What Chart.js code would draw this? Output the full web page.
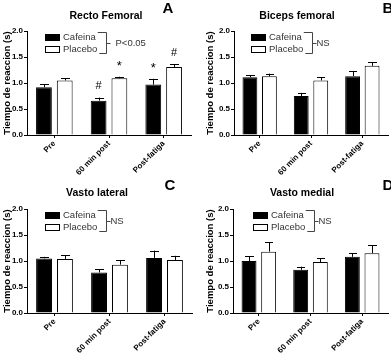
<!DOCTYPE html>
<html>
<head>
<meta charset="utf-8">
<script src="https://cdn.jsdelivr.net/npm/chart.js@4"></script>
<style>
  body { margin: 0; background: #fff; }
  #wrap { position: relative; width: 391px; height: 354px; overflow: hidden; }
  .panel { position: absolute; width: 195px; height: 177px; }
</style>
</head>
<body>
<div id="wrap">
  <div class="panel" style="left:0;top:0"><canvas id="chartA" width="195" height="177"></canvas></div>
  <div class="panel" style="left:195px;top:0;width:196px"><canvas id="chartB" width="196" height="177"></canvas></div>
  <div class="panel" style="left:0;top:177px"><canvas id="chartC" width="195" height="177"></canvas></div>
  <div class="panel" style="left:195px;top:177px;width:196px"><canvas id="chartD" width="196" height="177"></canvas></div>
</div>
<script>
// Data
const categories = ['Pre', '60 min post', 'Post-fatiga'];
const yTicks = [0, 0.5, 1.0, 1.5, 2.0];
const seriesNames = ['Cafeina', 'Placebo'];

// Recto femoral
const rfCafeina = [0.92, 0.66, 0.97];
const rfCafeinaErr = [0.06, 0.06, 0.11];
const rfPlacebo = [1.05, 1.09, 1.31];
const rfPlaceboErr = [0.04, 0.03, 0.05];
const rfMarksCafeina = ['', '#', '*'];
const rfMarksPlacebo = ['', '*', '#'];

// Biceps femoral
const bfCafeina = [1.11, 0.75, 1.13];
const bfCafeinaErr = [0.04, 0.06, 0.10];
const bfPlacebo = [1.13, 1.05, 1.33];
const bfPlaceboErr = [0.05, 0.06, 0.07];

// Vasto lateral
const vlCafeina = [1.05, 0.78, 1.06];
const vlCafeinaErr = [0.03, 0.06, 0.14];
const vlPlacebo = [1.04, 0.93, 1.02];
const vlPlaceboErr = [0.07, 0.09, 0.08];

// Vasto medial
const vmCafeina = [1.00, 0.83, 1.08];
const vmCafeinaErr = [0.09, 0.06, 0.07];
const vmPlacebo = [1.18, 0.98, 1.15];
const vmPlaceboErr = [0.18, 0.07, 0.15];

const noMarks = ['', '', ''];

const FONT = "'Liberation Sans', Arial, sans-serif";

// error bars (upper only) + significance marks
const errorBarPlugin = {
    id: 'errorBars',
    afterDatasetsDraw(chart) {
        const ctx = chart.ctx;
        const yScale = chart.scales.y;
        chart.data.datasets.forEach(function (ds, i) {
            const meta = chart.getDatasetMeta(i);
            meta.data.forEach(function (bar, j) {
                const top = yScale.getPixelForValue(ds.data[j] + ds.errors[j]);
                const half = bar.width / 4;
                ctx.save();
                ctx.strokeStyle = '#000';
                ctx.lineWidth = 1;
                ctx.beginPath();
                ctx.moveTo(Math.round(bar.x) + 0.5, bar.y);
                ctx.lineTo(Math.round(bar.x) + 0.5, top);
                ctx.moveTo(Math.round(bar.x - half), Math.round(top) + 0.5);
                ctx.lineTo(Math.round(bar.x + half) + 1, Math.round(top) + 0.5);
                ctx.stroke();
                const mark = ds.marks[j];
                if (mark) {
                    ctx.fillStyle = '#000';
                    ctx.textAlign = 'center';
                    ctx.textBaseline = 'bottom';
                    ctx.font = (mark === '*' ? '13px ' : '11px ') + FONT;
                    ctx.fillText(mark, bar.x, top - (mark === '*' ? 4 : 6));
                }
                ctx.restore();
            });
        });
    }
};

// title, panel letter, legend with bracket, y title
const decorPlugin = {
    id: 'decor',
    afterDraw(chart, args, opts) {
        const ctx = chart.ctx;
        const area = chart.chartArea;
        ctx.save();
        ctx.fillStyle = '#000';
        ctx.textBaseline = 'middle';

        ctx.font = 'bold 10.5px ' + FONT;
        ctx.textAlign = 'center';
        ctx.fillText(opts.title, opts.titleX, 16);

        ctx.font = 'bold 15px ' + FONT;
        ctx.fillText(opts.letter, opts.letterX, 9);

        // y title
        ctx.save();
        ctx.translate(opts.yTitleX, (area.top + area.bottom) / 2);
        ctx.rotate(-Math.PI / 2);
        ctx.font = 'bold 9.5px ' + FONT;
        ctx.fillText('Tiempo de reaccion (s)', 0, 0);
        ctx.restore();

        // legend
        const bx = area.left + opts.legendDx;
        const y1 = area.top + 6;
        const y2 = area.top + 18;
        ctx.lineWidth = 1;
        ctx.strokeStyle = '#000';
        ctx.fillRect(bx, y1 - 3, 15, 7);
        ctx.strokeRect(bx + 0.5, y2 - 3 + 0.5, 14, 6);
        ctx.font = '9.5px ' + FONT;
        ctx.textAlign = 'left';
        ctx.fillStyle = '#333';
        ctx.fillText(seriesNames[0], bx + 18, y1);
        ctx.fillText(seriesNames[1], bx + 18, y2);
        const w = Math.max(ctx.measureText(seriesNames[0]).width, ctx.measureText(seriesNames[1]).width);
        const brX = Math.round(bx + 18 + w + 9) + 0.5;
        ctx.strokeStyle = '#444';
        ctx.beginPath();
        ctx.moveTo(bx + 18 + ctx.measureText(seriesNames[0]).width + 2, Math.round(y1 - 5) + 0.5);
        ctx.lineTo(brX, Math.round(y1 - 5) + 0.5);
        ctx.lineTo(brX, Math.round(y2 + 4) + 0.5);
        ctx.lineTo(bx + 18 + ctx.measureText(seriesNames[1]).width + 2, Math.round(y2 + 4) + 0.5);
        const mid = Math.round((y1 + y2) / 2) + 0.5;
        ctx.moveTo(brX, mid);
        ctx.lineTo(brX + 4, mid);
        ctx.stroke();
        ctx.fillText(opts.stat, brX + (opts.stat === 'NS' ? 4 : 9), mid);
        ctx.restore();
    }
};

function makePanel(id, cafe, cafeErr, plac, placErr, marksC, marksP, cfg) {
    const c = document.getElementById(id);
    return new Chart(c, {
        type: 'bar',
        data: {
            labels: categories,
            datasets: [{
                label: seriesNames[0],
                data: cafe,
                errors: cafeErr,
                marks: marksC,
                backgroundColor: '#000',
                borderColor: '#000',
                borderWidth: 1
            }, {
                label: seriesNames[1],
                data: plac,
                errors: placErr,
                marks: marksP,
                backgroundColor: '#fff',
                borderColor: '#000',
                borderWidth: 1
            }]
        },
        options: {
            responsive: false,
            animation: false,
            datasets: {
                bar: {
                    categoryPercentage: 0.76,
                    barPercentage: 0.76
                }
            },
            layout: {
                padding: { left: 0, right: cfg.padRight, top: cfg.padTop, bottom: 0 }
            },
            plugins: {
                legend: { display: false },
                tooltip: { enabled: false },
                decor: cfg
            },
            scales: {
                x: {
                    grid: {
                        drawOnChartArea: false,
                        offset: false,
                        color: '#000',
                        tickLength: 3
                    },
                    border: { color: '#000', width: 1 },
                    ticks: {
                        color: '#000',
                        font: { family: FONT, size: 8, weight: 'bold' },
                        maxRotation: 45,
                        minRotation: 45,
                        padding: 1
                    },
                    afterFit: function (scale) { scale.height = cfg.xHeight; }
                },
                y: {
                    min: 0,
                    max: 2,
                    afterBuildTicks: function (scale) {
                        scale.ticks = yTicks.map(function (v) { return { value: v }; });
                    },
                    grid: {
                        drawOnChartArea: false,
                        color: '#000',
                        tickLength: 3
                    },
                    border: { color: '#000', width: 1 },
                    ticks: {
                        color: '#000',
                        font: { family: FONT, size: 8, weight: 'bold' },
                        padding: 1,
                        callback: function (v) { return Number(v).toFixed(1); }
                    },
                    afterFit: function (scale) { scale.width = cfg.yWidth; }
                }
            }
        },
        plugins: [errorBarPlugin, decorPlugin]
    });
}

makePanel('chartA', rfCafeina, rfCafeinaErr, rfPlacebo, rfPlaceboErr, rfMarksCafeina, rfMarksPlacebo, {
    title: 'Recto Femoral', titleX: 106, letter: 'A', letterX: 168, yTitleX: 7,
    stat: 'P<0.05', legendDx: 18, padTop: 31, padRight: 4, xHeight: 42, yWidth: 27
});
makePanel('chartB', bfCafeina, bfCafeinaErr, bfPlacebo, bfPlaceboErr, noMarks, noMarks, {
    title: 'Biceps femoral', titleX: 102, letter: 'B', letterX: 193, yTitleX: 15,
    stat: 'NS', legendDx: 17, padTop: 31, padRight: 3, xHeight: 42, yWidth: 39
});
makePanel('chartC', vlCafeina, vlCafeinaErr, vlPlacebo, vlPlaceboErr, noMarks, noMarks, {
    title: 'Vasto lateral', titleX: 97, letter: 'C', letterX: 170, yTitleX: 7,
    stat: 'NS', legendDx: 18, padTop: 32, padRight: 3, xHeight: 41, yWidth: 27
});
makePanel('chartD', vmCafeina, vmCafeinaErr, vmPlacebo, vmPlaceboErr, noMarks, noMarks, {
    title: 'Vasto medial', titleX: 107, letter: 'D', letterX: 193, yTitleX: 15,
    stat: 'NS', legendDx: 20, padTop: 32, padRight: 3, xHeight: 41, yWidth: 38
});
</script>
</body>
</html>
